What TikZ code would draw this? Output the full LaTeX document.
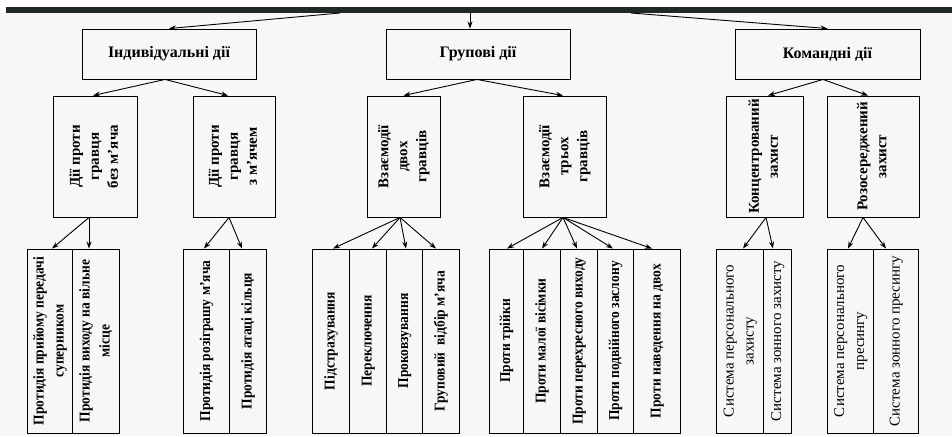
\documentclass[tikz,border=0pt]{standalone}
\usepackage{fontspec}
\setmainfont{Liberation Serif}
\newfontfamily\condbf[FakeStretch=0.9]{Liberation Serif}
\usetikzlibrary{arrows.meta}
\definecolor{bgc}{HTML}{F6F7F6}
\definecolor{bandc}{HTML}{202828}
\newcommand{\vtext}[1]{\rotatebox{90}{\begin{tabular}{@{}c@{}}#1\end{tabular}}}
\begin{document}
\begin{tikzpicture}[x=1pt,y=-1pt,
  box/.style={draw=black, line width=0.9pt, inner sep=0pt, font=\bfseries\fontsize{15}{19}\selectfont},
  topbox/.style={box, minimum height=50pt, font=\bfseries\fontsize{16}{19}\selectfont},
  midbox/.style={box, minimum height=121pt},
  cell/.style={box, minimum height=184pt, font=\condbf\bfseries\fontsize{15}{20}\selectfont},
  cellr/.style={box, minimum height=184pt, font=\fontsize{15}{20}\selectfont},
  arr/.style={draw=black, line width=0.9pt, -{Stealth[length=7pt,width=5pt]}}]
\useasboundingbox (0,0) rectangle (952,436);
\fill[white] (0,0) rectangle (952,436);
\fill[bgc] (0,13) rectangle (952,436);
\fill[bandc] (6,7) rectangle (952,13);

% top level
\node[topbox, minimum width=174pt] (t1) at (169,54) {Індивідуальні дії};
\node[topbox, minimum width=184pt] (t2) at (478,54) {Групові дії};
\node[topbox, minimum width=185pt] (t3) at (827.5,54) {Командні дії};

% middle level
\node[midbox, minimum width=84pt] (m1) at (95,156.5) {\vtext{Дії проти\\гравця\\без м’яча}};
\node[midbox, minimum width=82pt] (m2) at (234,156.5) {\vtext{Дії проти\\гравця\\з м’ячем}};
\node[midbox, minimum width=73pt] (m3) at (403.5,156.5) {\vtext{Взаємодії\\двох\\гравців}};
\node[midbox, minimum width=83pt] (m4) at (564.5,156.5) {\vtext{Взаємодії\\трьох\\гравців}};
\node[midbox, minimum width=77pt] (m5) at (764.5,156.5) {\vtext{Концентрований\\захист}};
\node[midbox, minimum width=92pt] (m6) at (873,156.5) {\vtext{Розосереджений\\захист}};

% bottom level
\node[cell, minimum width=45pt] (c11) at (49.5,341) {\vtext{Протидія прийому передачі\\суперником}};
\node[cell, minimum width=47pt] (c12) at (95.5,341) {\vtext{Протидія виходу на вільне\\місце}};
\node[cell, minimum width=46pt] (c21) at (206,341) {\vtext{Протидія розіграшу м’яча}};
\node[cell, minimum width=37pt] (c22) at (247.5,341) {\vtext{Протидія атаці кільця}};
\node[cell, minimum width=37pt] (c31) at (330.5,341) {\vtext{Підстрахування}};
\node[cell, minimum width=37pt] (c32) at (367.5,341) {\vtext{Переключення}};
\node[cell, minimum width=36pt] (c33) at (404,341) {\vtext{Проковзування}};
\node[cell, minimum width=37pt] (c34) at (440.5,341) {\vtext{Груповий\ \ відбір м’яча}};
\node[cell, minimum width=34pt] (c41) at (506,341) {\vtext{Проти трійки}};
\node[cell, minimum width=37pt] (c42) at (541.5,341) {\vtext{Проти малої вісімки}};
\node[cell, minimum width=37pt] (c43) at (578.5,341) {\vtext{Проти перехресного виходу}};
\node[cell, minimum width=36pt] (c44) at (615,341) {\vtext{Проти подвійного заслону}};
\node[cell, minimum width=47pt] (c45) at (656.5,341) {\vtext{Проти наведення на двох}};
\node[cellr, minimum width=47pt] (c51) at (739.5,341) {\vtext{Система персонального\\захисту}};
\node[cellr, minimum width=28pt] (c52) at (777,341) {\vtext{Система зонного захисту}};
\node[cellr, minimum width=46pt] (c61) at (850,341) {\vtext{Система персонального\\пресингу}};
\node[cellr, minimum width=45pt] (c62) at (895.5,341) {\vtext{Система зонного пресингу}};

% connectors from band
\coordinate (b1) at (340,13);
\coordinate (b2) at (470,13);
\coordinate (b3) at (631,13);
\draw[arr] (b1) -- (t1.north);
\draw[arr] (b2) -- (b2 |- t2.north);
\draw[arr] (b3) -- (t3.north);

% top -> middle
\draw[arr] ([xshift=-4pt]t1.south) -- ([xshift=-2pt]m1.north);
\draw[arr] ([xshift=-4pt]t1.south) -- ([xshift=-6pt]m2.north);
\draw[arr] ([xshift=-1pt]t2.south) -- (m3.north);
\draw[arr] ([xshift=-1pt]t2.south) -- ([xshift=-1.5pt]m4.north);
\draw[arr] ([xshift=-4.5pt]t3.south) -- ([xshift=3.5pt]m5.north);
\draw[arr] ([xshift=-4.5pt]t3.south) -- ([xshift=-5pt]m6.north);

% middle -> bottom
\draw[arr] ([xshift=-6pt]m1.south) -- ([xshift=2.5pt]c11.north);
\draw[arr] ([xshift=-6pt]m1.south) -- ([xshift=-6.5pt]c12.north);
\draw[arr] ([xshift=-5pt]m2.south) -- ([xshift=-2pt]c21.north);
\draw[arr] ([xshift=-5pt]m2.south) -- ([xshift=-5.5pt]c22.north);
\draw[arr] ([xshift=-3.5pt]m3.south) -- ([xshift=2.5pt]c31.north);
\draw[arr] ([xshift=-3.5pt]m3.south) -- ([xshift=4.5pt]c32.north);
\draw[arr] ([xshift=-3.5pt]m3.south) -- ([xshift=2pt]c33.north);
\draw[arr] ([xshift=-3.5pt]m3.south) -- ([xshift=-4.5pt]c34.north);
\draw[arr] ([xshift=-1.5pt]m4.south) -- ([xshift=1pt]c41.north);
\draw[arr] ([xshift=-1.5pt]m4.south) -- ([xshift=0.5pt]c42.north);
\draw[arr] ([xshift=-1.5pt]m4.south) -- ([xshift=-1.5pt]c43.north);
\draw[arr] ([xshift=-1.5pt]m4.south) -- ([xshift=-2pt]c44.north);
\draw[arr] ([xshift=-1.5pt]m4.south) -- ([xshift=-4.5pt]c45.north);
\draw[arr] ([xshift=1.5pt]m5.south) -- ([xshift=3.5pt]c51.north);
\draw[arr] ([xshift=1.5pt]m5.south) -- ([xshift=-4pt]c52.north);
\draw[arr] ([xshift=-10pt]m6.south) -- ([xshift=-2pt]c61.north);
\draw[arr] ([xshift=-10pt]m6.south) -- ([xshift=-9.5pt]c62.north);
\end{tikzpicture}
\end{document}
